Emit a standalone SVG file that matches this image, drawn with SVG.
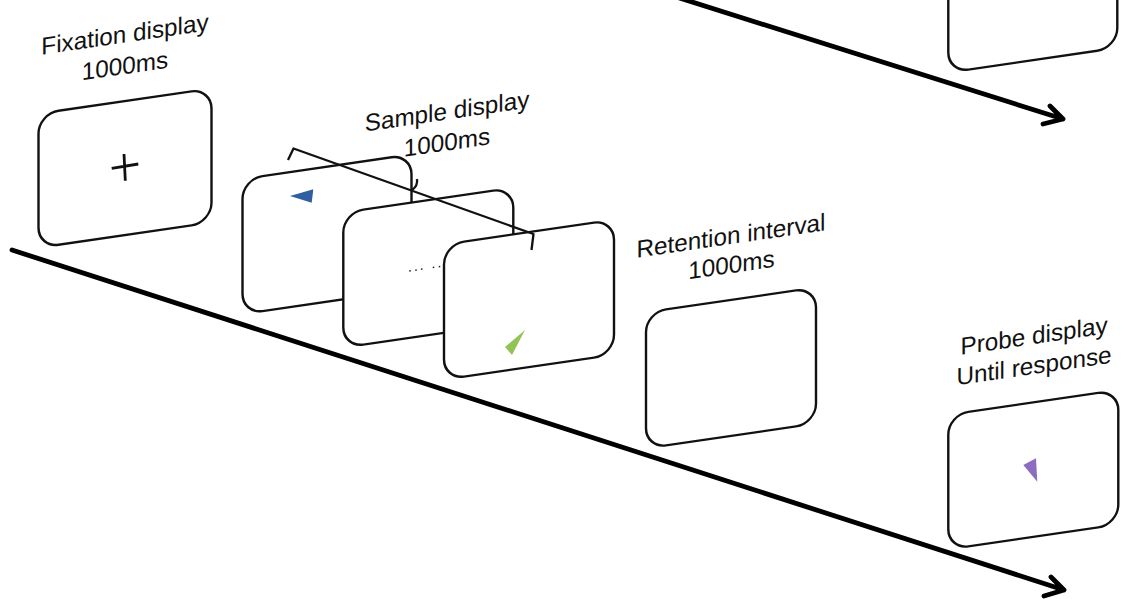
<svg xmlns="http://www.w3.org/2000/svg" width="1126" height="599" viewBox="0 0 1126 599">
<defs>
<style>
.scr{fill:#fff;stroke:#111;stroke-width:2.4}
.lbl{font-family:"Liberation Sans",Arial,sans-serif;font-size:24.3px;fill:#111;text-anchor:middle}
.axis{fill:none;stroke:#000;stroke-width:4.8;stroke-linecap:round;stroke-linejoin:round}
.br{fill:none;stroke:#111;stroke-width:2.3;stroke-linejoin:round}
</style>
</defs>
<rect width="1126" height="599" fill="#fff"/>
<g id="connectors">
<path class="axis" d="M670,-5 L1063,119 M1050,106 L1063,119 L1043,124"/>
<path class="axis" d="M12,250 L1064,590 M1051,577 L1064,590 L1044,596"/>
</g>
<g id="probe-prev">
<g transform="translate(948.3,-62.5) skewY(-8.3)"><rect class="scr" width="169" height="135" rx="20"/></g>
</g>
<g id="fixation">
<g transform="translate(125,42.5) skewY(-8.3)"><text class="lbl">Fixation display</text></g>
<g transform="translate(125,74) skewY(-8.3)"><text class="lbl">1000ms</text></g>
<g transform="translate(38.5,113.7) skewY(-8.3)"><rect class="scr" width="173" height="134" rx="20"/></g>
<path d="M111.7,168.3 L138.3,164 M124,154 L125.3,180.7" stroke="#111" stroke-width="2.8" fill="none"/>
</g>
<g id="sample">
<g transform="translate(447,119.5) skewY(-8.3)"><text class="lbl">Sample display</text></g>
<g transform="translate(447,150.5) skewY(-8.3)"><text class="lbl">1000ms</text></g>
<g transform="translate(242.5,179) skewY(-8.3)"><rect class="scr" width="169" height="135" rx="20"/></g>
<polygon points="290,196 313.3,189.3 311.7,202.7" fill="#2f5f9f"/>
<g transform="translate(343.3,212.5) skewY(-8.3)"><rect class="scr" width="170" height="135" rx="20"/></g>
<g transform="translate(408,272) skewY(-8.3)"><text style="font-family:'Liberation Sans',Arial,sans-serif;font-size:14px;fill:#000;letter-spacing:2px">...  ...</text></g>
<g transform="translate(444,244.5) skewY(-8.3)"><rect class="scr" width="170" height="135" rx="20"/></g>
<polygon points="525,330 505,347 512,355" fill="#92c354"/>
<path class="br" d="M288,160 L293.5,148.5 L533.5,234 L531.5,250"/>
<path class="br" d="M412,190 Q418,186 417,179"/>
</g>
<g id="retention">
<g transform="translate(731,244) skewY(-8.3)"><text class="lbl">Retention interval</text></g>
<g transform="translate(731.5,273) skewY(-8.3)"><text class="lbl">1000ms</text></g>
<g transform="translate(646,312.3) skewY(-8.3)"><rect class="scr" width="170" height="136" rx="20"/></g>
</g>
<g id="probe">
<g transform="translate(1034,344) skewY(-8.3)"><text class="lbl">Probe display</text></g>
<g transform="translate(1034,374) skewY(-8.3)"><text class="lbl">Until response</text></g>
<g transform="translate(948.3,414.8) skewY(-8.3)"><rect class="scr" width="170" height="134.5" rx="20"/></g>
<polygon points="1023.3,465 1036,458.3 1037.3,481.7" fill="#8b6cc0"/>
</g>
</svg>
